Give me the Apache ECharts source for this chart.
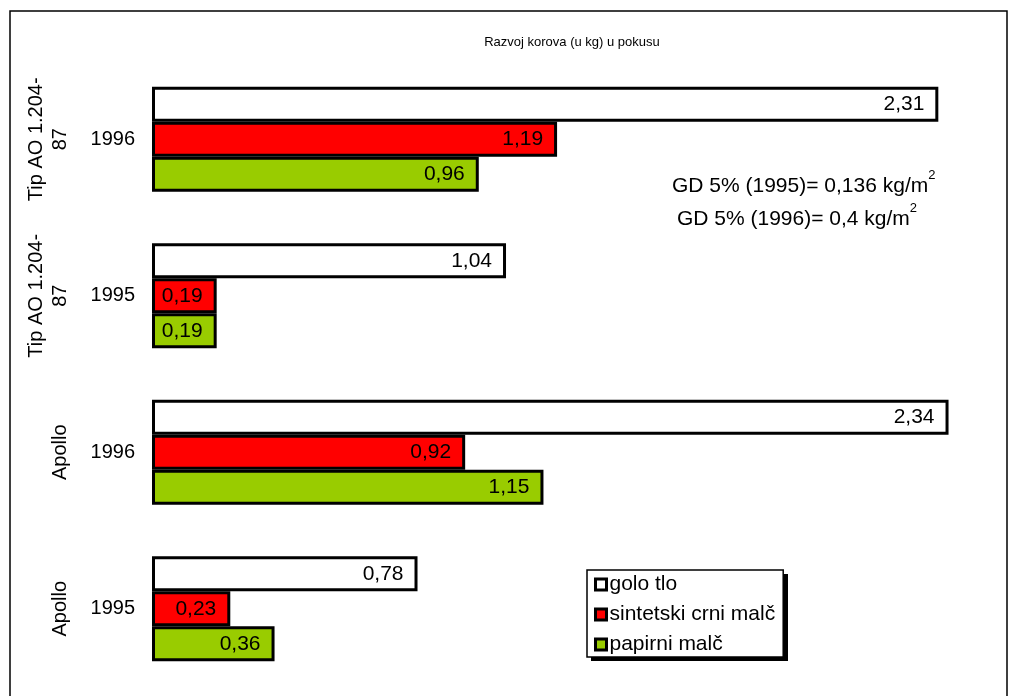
<!DOCTYPE html>
<html>
<head>
<meta charset="utf-8">
<script src="https://cdn.jsdelivr.net/npm/echarts@6/dist/echarts.min.js"></script>
<style>
  html, body { margin: 0; padding: 0; background: #fff; }
  #chart { width: 1016px; height: 696px; }
</style>
</head>
<body>
<div id="chart"></div>
<script>
// categories, top to bottom
const years = ['1996', '1995', '1996', '1995'];
const groups = ['Tip AO 1.204-\n87', 'Tip AO 1.204-\n87', 'Apollo', 'Apollo'];

// values in kg, same order as categories
const goloTlo = [2.31, 1.04, 2.34, 0.78];
const sintetskiMalc = [1.19, 0.19, 0.92, 0.23];
const papirniMalc = [0.96, 0.19, 1.15, 0.36];

const seriesNames = ['golo tlo', 'sintetski crni malč', 'papirni malč'];
const seriesColors = ['#ffffff', '#ff0000', '#99cc00'];

const FONT = 'Liberation Sans, Arial, sans-serif';

const chart = echarts.init(document.getElementById('chart'));

const fmt = (p) => p.value.toFixed(2).replace('.', ',');

const makeSeries = (name, data, color) => ({
  name: name,
  type: 'bar',
  data: data,
  barWidth: 35,
  barGap: '0%',
  itemStyle: { color: color, borderColor: '#000', borderWidth: 3 },
  label: {
    show: true,
    position: 'insideRight',
    distance: 14,
    formatter: fmt,
    color: '#000',
    fontSize: 21,
    fontFamily: FONT
  },
  emphasis: { disabled: true }
});

const gdRich = {
  a: { fontSize: 21, fontWeight: 'normal', color: '#000', fontFamily: FONT, lineHeight: 28, verticalAlign: 'bottom' },
  s: { fontSize: 13, fontWeight: 'normal', color: '#000', fontFamily: FONT, lineHeight: 28, verticalAlign: 'top' }
};

const option = {
  animation: false,
  textStyle: { fontFamily: FONT },
  title: [
    {
      text: 'Razvoj korova (u kg) u pokusu',
      left: 567,
      top: 31,
      textAlign: 'center',
      textStyle: { fontSize: 13, fontWeight: 'normal', color: '#000', fontFamily: FONT }
    },
    {
      text: '{a|GD 5% (1995)= 0,136 kg/m}{s|2}',
      left: 667,
      top: 164,
      textStyle: { fontWeight: 'normal', rich: gdRich }
    },
    {
      text: '{a|GD 5% (1996)= 0,4 kg/m}{s|2}',
      left: 672,
      top: 197,
      textStyle: { fontWeight: 'normal', rich: gdRich }
    }
  ],
  legend: {
    orient: 'vertical',
    left: 587,
    top: 570,
    data: seriesNames,
    icon: 'rect',
    itemWidth: 11,
    itemHeight: 11,
    itemGap: 9,
    padding: [4, 8, 2, 7],
    itemStyle: { borderColor: '#000', borderWidth: 3 },
    backgroundColor: '#fff',
    borderColor: '#000',
    borderWidth: 1.5,
    textStyle: { fontSize: 21, color: '#000', fontFamily: FONT, padding: [0, 0, 0, -2] },
    selectedMode: false
  },
  grid: { left: 152, right: 13, top: 61, bottom: 9, containLabel: false },
  xAxis: {
    type: 'value',
    min: 0,
    max: 2.5,
    show: false
  },
  yAxis: [
    {
      type: 'category',
      data: years,
      inverse: true,
      axisLine: { show: false },
      axisTick: { show: false },
      axisLabel: { color: '#000', fontSize: 20, margin: 17, interval: 0, fontFamily: FONT }
    },
    {
      type: 'category',
      data: groups,
      inverse: true,
      position: 'left',
      offset: 72,
      axisLine: { show: false },
      axisTick: { show: false },
      axisLabel: {
        color: '#000',
        fontSize: 20,
        lineHeight: 24,
        rotate: 90,
        margin: 8,
        interval: 0,
        hideOverlap: false,
        align: 'center',
        fontFamily: FONT
      }
    }
  ],
  graphic: [
    {
      // outer chart frame
      type: 'rect',
      silent: true,
      shape: { x: 10, y: 11, width: 997, height: 700 },
      style: { fill: 'none', stroke: '#000', lineWidth: 1.5 }
    },
    {
      // drop shadow behind the legend box
      type: 'rect',
      silent: true,
      z: 1,
      shape: { x: 591, y: 574, width: 197, height: 87 },
      style: { fill: '#000' }
    }
  ],
  series: [
    makeSeries(seriesNames[0], goloTlo, seriesColors[0]),
    makeSeries(seriesNames[1], sintetskiMalc, seriesColors[1]),
    makeSeries(seriesNames[2], papirniMalc, seriesColors[2])
  ]
};

chart.setOption(option);
</script>
</body>
</html>
